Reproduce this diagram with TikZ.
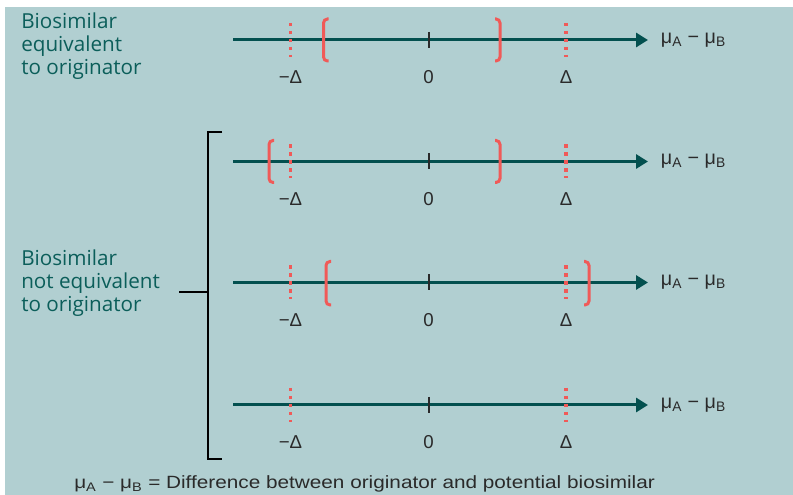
\documentclass[tikz,border=0pt]{standalone}
\usepackage{fontspec}
\setmainfont{Liberation Sans}
\newfontfamily\groupfont{Open Sans}
\newfontfamily\notefont[FakeStretch=1.17]{Liberation Sans}
\usetikzlibrary{arrows.meta,calc,positioning}
\definecolor{Panel}{HTML}{B1CFD1}
\definecolor{DeepTeal}{HTML}{03504F}
\definecolor{LabelTeal}{HTML}{0B5E5A}
\definecolor{Margin}{HTML}{F05A58}
\definecolor{Ink}{HTML}{2A2A2A}
\newcommand{\mudiff}{μ\textsubscript{A} − μ\textsubscript{B}}
\tikzset{
  axisline/.style={-{Triangle[length=9pt,width=10.5pt]}, line width=2.25pt, draw=DeepTeal},
  limit/.style={draw=Margin, line width=2.4pt, dash pattern=on 2.6pt off 3.4pt},
  zerotick/.style={draw=Ink, line width=1.5pt},
  interval/.style={draw=Margin, line width=2.25pt, rounded corners=3pt},
  grouping/.style={draw=black, line width=1.5pt},
  ticklabel/.style={font=\fontsize{14}{16}\selectfont, text=Ink, inner sep=0pt},
  difflabel/.style={font=\fontsize{14.8}{16}\selectfont, text=Ink, inner sep=0pt},
  grouplabel/.style={font=\groupfont\fontsize{15.5}{17.25}\selectfont, text=LabelTeal,
    align=left, inner sep=0pt, anchor=north west}
}

\begin{document}
\begin{tikzpicture}[x=0.75pt,y=-0.75pt]
  \useasboundingbox (0,0) rectangle (793,495);
  \fill[Panel] (5,7) rectangle (793,495);

  % the four number lines
  \foreach \r/\y in {1/40,2/161.5,3/282.5,4/405}{
    \coordinate (s\r) at (233,\y);
    \coordinate (e\r) at (648,\y);
    \coordinate (lo\r) at (290.5,\y);
    \coordinate (zero\r) at (428.5,\y);
    \coordinate (hi\r) at (566,\y);
    \draw[axisline] (s\r) -- (e\r);
    \draw[limit] ($(lo\r)+(0,-17)$) -- ($(lo\r)+(0,17)$);
    \draw[limit] ($(hi\r)+(0,-17)$) -- ($(hi\r)+(0,17)$);
    \draw[zerotick] ($(zero\r)+(0,-8)$) -- ($(zero\r)+(0,8)$);
    \node[ticklabel] (mlab\r) at ($(lo\r)+(0,37.5)$) {−Δ};
    \node[ticklabel] (zlab\r) at ($(zero\r)+(0,37.5)$) {0};
    \node[ticklabel] (plab\r) at ($(hi\r)+(0,37.5)$) {Δ};
    \node[difflabel, right=9.5pt of e\r] (mu\r) {\mudiff};
  }

  % confidence intervals
  \draw[interval] (328.5,19) -- (323.5,19) -- (323.5,61) -- (328.5,61);
  \draw[interval] (495,19) -- (500,19) -- (500,61) -- (495,61);
  \draw[interval] (274,140.5) -- (269,140.5) -- (269,182.5) -- (274,182.5);
  \draw[interval] (495,140.5) -- (500,140.5) -- (500,182.5) -- (495,182.5);
  \draw[interval] (331,261.5) -- (326,261.5) -- (326,305) -- (331,305);
  \draw[interval] (584,261.5) -- (589,261.5) -- (589,305) -- (584,305);

  % group labels
  \node[grouplabel] (equiv) at (21,12.5) {Biosimilar\\equivalent\\to originator};
  \node[grouplabel] (notequiv) at (21,250) {Biosimilar\\not equivalent\\to originator};

  \coordinate (gtop) at (222,132);
  \coordinate (gbot) at (222,459);
  \coordinate (gspine) at (208,292);
  \coordinate (gstub) at (179,292);
  \draw[grouping] (gtop) -| (gspine) |- (gbot);
  \draw[grouping] (gstub) -- (gspine);

  \node[anchor=base west, font=\notefont\fontsize{13.3}{15}\selectfont, text=Ink, inner sep=0pt]
    (caption) at (74,488.5) {\mudiff{} = Difference between originator and potential biosimilar};
\end{tikzpicture}
\end{document}
